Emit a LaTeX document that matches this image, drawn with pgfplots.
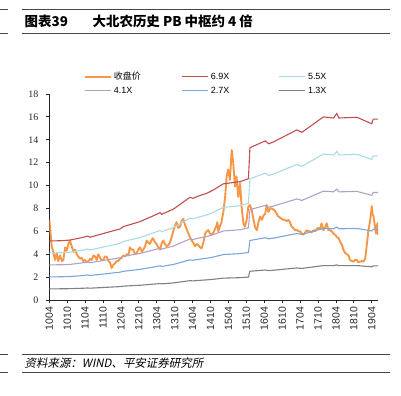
\documentclass[border=0pt]{standalone}
\usepackage{fontspec}
\usepackage{pgfplots}
\pgfplotsset{compat=1.18}
\setmainfont{Liberation Sans}
\newfontfamily\cjk{Noto Sans CJK SC}
\newfontfamily\cjkit[FakeSlant=0.2]{Noto Sans CJK SC}
\newfontfamily\timesf{Liberation Serif}
\definecolor{cOrange}{RGB}{247,150,70}
\definecolor{cRed}{RGB}{192,80,77}
\definecolor{cCyan}{RGB}{170,218,232}
\definecolor{cPurple}{RGB}{178,161,199}
\definecolor{cBlue}{RGB}{125,165,220}
\definecolor{cGray}{RGB}{128,128,128}
\definecolor{cRule}{RGB}{70,70,70}
\begin{document}
\begin{tikzpicture}
\path[use as bounding box] (0,0) rectangle (401bp,396bp);
\draw[cRule, line width=0.8bp] (0,386.5bp) -- (8bp,386.5bp) (22bp,386.5bp) -- (390bp,386.5bp);
\draw[cRule, line width=0.8bp] (0,363bp) -- (8bp,363bp) (22bp,363bp) -- (390bp,363bp);
\node[anchor=west, inner sep=0] at (24.5bp,374.5bp) {\cjk\bfseries\fontsize{13.5}{16}\selectfont 图表39};
\node[anchor=west, inner sep=0] at (92.5bp,374.5bp) {\cjk\bfseries\fontsize{13.5}{16}\selectfont 大北农历史 PB 中枢约 4 倍};
\draw[cRule, line width=0.8bp] (0,41.7bp) -- (8bp,41.7bp) (22bp,41.7bp) -- (390bp,41.7bp);
\draw[cRule, line width=0.8bp] (0,23.7bp) -- (8bp,23.7bp) (22bp,23.7bp) -- (390bp,23.7bp);
\node[anchor=west, inner sep=0] at (24.5bp,33bp) {\cjkit\fontsize{11.5}{14}\selectfont 资料来源：WIND、平安证券研究所};
\begin{axis}[
  at={(49.3bp,96bp)}, anchor=south west,
  scale only axis, width=328.7bp, height=206bp,
  xmin=0, xmax=110.1, ymin=0, ymax=18,
  axis x line*=bottom, axis y line*=left,
  axis line style={black!85, line width=0.8bp},
  tick align=outside, major tick length=3.5bp,
  tick style={black!85, line width=0.8bp},
  xtick={0,6,...,108},
  xticklabels={1004,1010,1104,1110,1204,1210,1304,1310,1404,1410,1504,1510,1604,1610,1704,1710,1804,1810,1904},
  x tick label style={rotate=90, anchor=east, font=\fontsize{10.5}{12}\selectfont, text=black!85},
  ytick={0,2,...,18},
  y tick label style={font=\timesf\fontsize{10}{12}\selectfont, xshift=-4bp, text=black!85},
  /pgf/number format/assume math mode=true,
  legend style={draw=none, fill=none, legend columns=3, at={(0.5497,1.051)}, anchor=center,
    font=\fontsize{9}{11}\selectfont, cells={anchor=west}, row sep=1.5bp,
    /tikz/every even column/.append style={column sep=0bp}},
  legend image code/.code={\draw[#1] (0bp,0bp) -- (26bp,0bp);},
]
\addplot[cOrange, line width=1.9bp, line join=round] coordinates {
(0,7.0)(0.3,6.2)(0.8,4.7)(1.35,4.2)(1.9,3.5)(2.5,4.1)(3.0,3.4)(3.6,3.9)(4.2,3.4)(4.7,3.5)
(5.3,4.6)(5.8,4.3)(6.4,4.9)(6.9,5.2)(7.5,4.7)(8.1,4.2)(8.6,4.4)(9.2,4.0)(9.7,3.8)(10.3,3.6)
(10.8,3.7)(11.4,3.4)(12.0,3.5)(12.5,3.3)(13.1,3.4)(13.7,3.6)(14.2,3.5)(14.8,3.9)(15.3,3.8)(15.9,3.5)
(16.4,4.0)(17.0,3.7)(17.5,3.5)(18.1,3.5)(18.6,3.8)(19.2,3.8)(19.8,3.4)(20.3,3.3)(20.9,2.8)(21.5,3.1)
(22.0,3.2)(22.6,3.4)(23.1,3.4)(23.7,3.6)(24.3,3.7)(24.8,3.9)(25.4,3.8)(26.0,4.0)(26.5,3.9)(27.0,4.6)
(27.5,4.4)(28.1,4.4)(28.7,4.0)(29.3,4.1)(29.8,4.4)(30.4,4.6)(31.0,4.2)(31.5,4.4)(32.1,4.7)(32.6,5.2)
(33.2,5.0)(33.7,4.9)(34.2,5.2)(34.7,5.4)(35.3,5.1)(35.9,4.9)(36.5,4.6)(37.1,4.4)(37.6,4.9)(38.2,5.2)
(38.7,4.9)(39.3,4.7)(39.9,4.8)(40.4,5.0)(41.0,5.5)(41.5,6.0)(42.0,6.4)(42.6,6.8)(43.2,6.3)(43.8,6.4)
(44.3,6.9)(44.9,7.1)(45.4,6.6)(46.0,6.2)(46.6,5.8)(47.1,5.5)(47.7,5.2)(48.2,5.0)(48.8,4.7)(49.4,4.9)
(49.9,4.8)(50.5,4.6)(51.0,4.5)(51.6,5.0)(52.2,5.8)(52.7,6.0)(53.3,6.1)(53.8,5.8)(54.4,5.7)(55.0,5.9)
(55.5,6.2)(56.0,6.5)(56.3,6.8)(56.6,6.0)(57.2,6.5)(57.6,6.7)(58.3,7.7)(58.9,9.0)(59.4,10.8)(59.9,11.4)
(60.5,10.5)(61.1,13.1)(61.6,12.0)(62.2,9.9)(62.7,10.8)(63.3,9.0)(63.9,10.2)(64.4,8.2)(65.0,6.7)(65.5,6.4)
(66.1,7.0)(66.7,8.2)(67.2,8.3)(67.8,7.9)(68.4,7.0)(68.9,6.4)(69.5,6.1)(70.0,6.7)(70.6,7.3)(71.2,7.0)
(71.8,7.4)(72.3,7.5)(72.8,8.3)(73.4,7.7)(74.0,8.0)(74.5,8.0)(75.1,7.9)(75.6,7.8)(76.2,7.5)(76.7,7.3)
(77.3,7.2)(77.8,7.1)(78.4,7.0)(78.9,7.0)(79.5,6.9)(80.1,7.0)(80.6,6.8)(81.2,6.4)(81.7,6.3)(82.3,6.1)
(83.0,6.1)(83.5,6.0)(84.0,6.0)(84.6,5.8)(85.1,5.7)(85.7,5.9)(86.2,6.1)(86.8,6.0)(87.3,6.0)(87.9,5.9)
(88.5,6.1)(89.0,6.0)(89.6,6.2)(90.1,6.3)(90.7,6.2)(91.2,6.7)(91.8,6.1)(92.3,6.3)(92.9,6.7)(93.5,6.1)
(94.0,6.1)(94.6,6.0)(95.2,5.8)(95.8,5.7)(96.3,5.5)(96.9,5.4)(97.4,5.1)(98.0,4.8)(98.5,4.4)(99.1,4.1)
(99.6,4.0)(100.2,3.9)(100.7,3.5)(101.3,3.4)(101.9,3.35)(102.4,3.5)(103.0,3.5)(103.5,3.3)(104.1,3.35)(104.6,3.4)
(105.2,3.35)(105.8,3.6)(106.3,4.7)(106.9,6.1)(107.5,7.0)(108.0,8.2)(108.3,7.5)(108.6,7.3)(109.1,6.4)(109.4,5.8)
(109.9,6.7)(110.1,5.7)
};
\addlegendentry{\makebox[66bp][l]{\cjk 收盘价}}
\addplot[cRed, line width=1.1bp] coordinates {
(0,5.16)(4,5.18)(7,5.24)(11.4,5.48)(12.9,5.59)(13.6,5.48)(19.2,5.89)(23.7,6.21)(24.8,6.41)(30.4,6.85)
(36,7.49)(37.1,7.63)(37.6,7.49)(41.5,7.93)(47.1,8.97)(48.2,8.88)(49.4,9.03)(52.7,9.32)(55,9.62)(58.3,10.15)
(63.9,10.34)(66.7,10.6)(67.2,13.3)(72.3,13.9)(73.5,13.65)(75,13.8)(82.9,14.86)(84.6,14.65)(91.8,16.0)(95.2,15.9)
(96.3,16.3)(97,15.9)(103,15.97)(108,15.4)(108.5,15.8)(110.1,15.8)
};
\addlegendentry{\makebox[66bp][l]{6.9X}}
\addplot[cCyan, line width=1.1bp] coordinates {
(0,4.11)(4,4.13)(7,4.18)(11.4,4.37)(12.9,4.46)(13.6,4.37)(19.2,4.69)(23.7,4.95)(24.8,5.11)(30.4,5.46)
(36,5.97)(37.1,6.08)(37.6,5.97)(41.5,6.32)(47.1,7.15)(48.2,7.08)(49.4,7.20)(52.7,7.43)(55,7.67)(58.3,8.09)
(63.9,8.24)(66.7,8.45)(67.2,10.60)(72.3,11.08)(73.5,10.88)(75,11.00)(82.9,11.84)(84.6,11.68)(91.8,12.75)(95.2,12.67)
(96.3,12.99)(97,12.67)(103,12.73)(108,12.28)(108.5,12.59)(110.1,12.59)
};
\addlegendentry{\makebox[66bp][l]{5.5X}}
\addplot[cPurple, line width=1.1bp] coordinates {
(0,3.07)(4,3.08)(7,3.11)(11.4,3.26)(12.9,3.32)(13.6,3.26)(19.2,3.50)(23.7,3.69)(24.8,3.81)(30.4,4.07)
(36,4.45)(37.1,4.53)(37.6,4.45)(41.5,4.71)(47.1,5.33)(48.2,5.28)(49.4,5.37)(52.7,5.54)(55,5.72)(58.3,6.03)
(63.9,6.14)(66.7,6.30)(67.2,7.90)(72.3,8.26)(73.5,8.11)(75,8.20)(82.9,8.83)(84.6,8.70)(91.8,9.51)(95.2,9.45)
(96.3,9.69)(97,9.45)(103,9.49)(108,9.15)(108.5,9.39)(110.1,9.39)
};
\addlegendentry{\makebox[66bp][l]{4.1X}}
\addplot[cBlue, line width=1.1bp] coordinates {
(0,2.02)(4,2.03)(7,2.05)(11.4,2.14)(12.9,2.19)(13.6,2.14)(19.2,2.30)(23.7,2.43)(24.8,2.51)(30.4,2.68)
(36,2.93)(37.1,2.99)(37.6,2.93)(41.5,3.10)(47.1,3.51)(48.2,3.47)(49.4,3.53)(52.7,3.65)(55,3.76)(58.3,3.97)
(63.9,4.05)(66.7,4.15)(67.2,5.20)(72.3,5.44)(73.5,5.34)(75,5.40)(82.9,5.81)(84.6,5.73)(91.8,6.26)(95.2,6.22)
(96.3,6.38)(97,6.22)(103,6.25)(108,6.03)(108.5,6.18)(110.1,6.18)
};
\addlegendentry{\makebox[66bp][l]{2.7X}}
\addplot[cGray, line width=1.1bp] coordinates {
(0,0.97)(4,0.98)(7,0.99)(11.4,1.03)(12.9,1.05)(13.6,1.03)(19.2,1.11)(23.7,1.17)(24.8,1.21)(30.4,1.29)
(36,1.41)(37.1,1.44)(37.6,1.41)(41.5,1.49)(47.1,1.69)(48.2,1.67)(49.4,1.70)(52.7,1.76)(55,1.81)(58.3,1.91)
(63.9,1.95)(66.7,2.00)(67.2,2.51)(72.3,2.62)(73.5,2.57)(75,2.60)(82.9,2.80)(84.6,2.76)(91.8,3.01)(95.2,3.00)
(96.3,3.07)(97,3.00)(103,3.01)(108,2.90)(108.5,2.98)(110.1,2.98)
};
\addlegendentry{\makebox[66bp][l]{1.3X}}
\end{axis}
\end{tikzpicture}
\end{document}
